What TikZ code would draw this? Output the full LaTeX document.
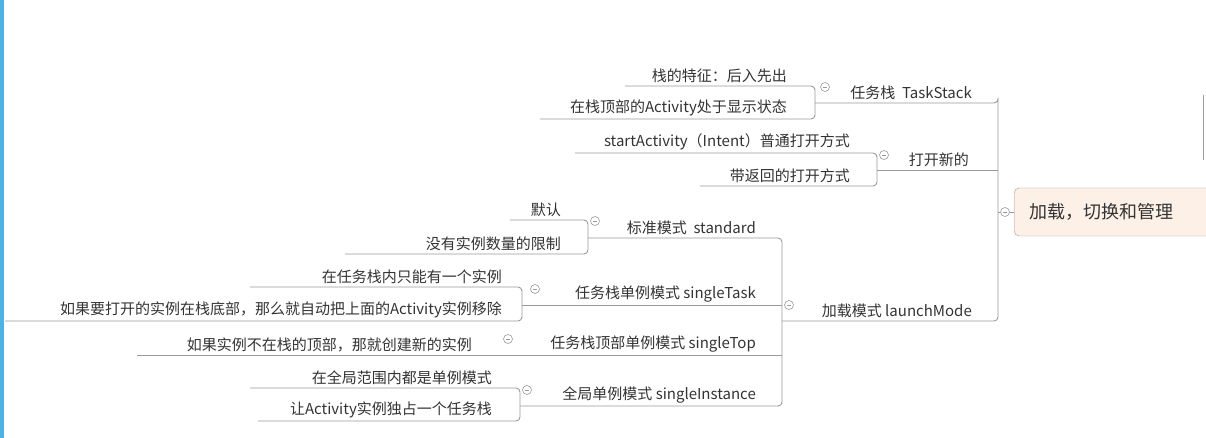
\documentclass[tikz,border=0pt]{standalone}
\usepackage{fontspec}
\setmainfont{Noto Sans CJK SC}
\definecolor{linegray}{HTML}{9A9A9A}
\definecolor{textgray}{HTML}{333333}
\definecolor{rootfill}{HTML}{FDF1E7}
\definecolor{barblue}{HTML}{4DB2E6}
\tikzset{
 topic/.style={anchor=south east,inner sep=1pt,text=textgray,font=\fontsize{15}{17}\selectfont},
 conn/.style={draw=linegray,line width=0.9pt,rounded corners=4pt},
 fold/.style={draw=linegray,fill=white,circle,inner sep=0pt,minimum size=9pt,line width=0.6pt}
}
\begin{document}
\begin{tikzpicture}[x=1pt,y=-1pt]
 \useasboundingbox (0,0) rectangle (1206,438);
 \clip (0,0) rectangle (1206,438);
 \fill[barblue] (0,0) rectangle (4,438);
 \draw[linegray,line width=0.8pt] (1203,95) -- (1203,160);
 % root
 \node[draw=linegray,fill=rootfill,rounded corners=5pt,anchor=west,minimum height=48pt,
  minimum width=220pt,text width=190pt,inner xsep=14pt,text=textgray,
  font=\fontsize{18}{20}\selectfont] (root) at (1014,212) {加载，切换和管理};
 % level one
 \node[topic] (ts) at (973,101) {任务栈\ \ TaskStack};
 \node[topic] (open) at (970,168) {打开新的};
 \node[topic] (lm) at (973,319) {加载模式 launchMode};
 % TaskStack
 \node[topic] (ts1) at (788,84) {栈的特征：后入先出};
 \node[topic] (ts2) at (788,117) {在栈顶部的Activity处于显示状态};
 % open
 \node[topic] (op1) at (851,151) {startActivity（Intent）普通打开方式};
 \node[topic] (op2) at (851,184) {带返回的打开方式};
 % launchMode
 \node[topic] (std) at (757,236) {标准模式\ \ standard};
 \node[topic] (stask) at (757,303) {任务栈单例模式 singleTask};
 \node[topic] (stop) at (757,353) {任务栈顶部单例模式 singleTop};
 \node[topic] (sinst) at (757,404) {全局单例模式 singleInstance};
 \node[topic] (std1) at (562,218) {默认};
 \node[topic] (std2) at (562,252) {没有实例数量的限制};
 \node[topic] (sk1) at (503,285) {在任务栈内只能有一个实例};
 \node[topic] (sk2) at (503,319) {如果要打开的实例在栈底部，那么就自动把上面的Activity实例移除};
 \node[topic] (sp1) at (473,353) {如果实例不在栈的顶部，那就创建新的实例};
 \node[topic] (si1) at (493,386) {在全局范围内都是单例模式};
 \node[topic] (si2) at (493,419) {让Activity实例独占一个任务栈};
 % connectors
 \draw[conn] (625,86) -| (815,103) |- (540,119);
 \draw[conn] (815,103) -- (998,103) -| (998,212) |- (782,321);
 \draw[conn] (575,153) -| (877,170) |- (700,186);
 \draw[conn] (877,170) -- (998,170);
 \draw[conn] (998,212) -- (root.west);
 \draw[conn] (588,238) -- (782,238) |- (782,406) -- (520,406);
 \draw[conn] (782,305) -- (522,305);
 \draw[conn] (782,355) -- (137,355);
 \draw[conn] (510,220) -| (588,238) |- (345,254);
 \draw[conn] (250,287) -| (522,305) |- (5,321);
 \draw[conn] (250,388) -| (520,406) |- (258,421);
 % fold marks
 \foreach \p/\n in {(1005,212)/f0,(825,87)/f1,(884,155)/f2,(789,305)/f3,(595,221)/f4,
  (535,289)/f5,(508,339)/f6,(527,390)/f7}
  \node[fold] (\n) at \p {\tikz\draw[linegray,line width=0.6pt] (0,0) -- (4pt,0);};
\end{tikzpicture}
\end{document}
